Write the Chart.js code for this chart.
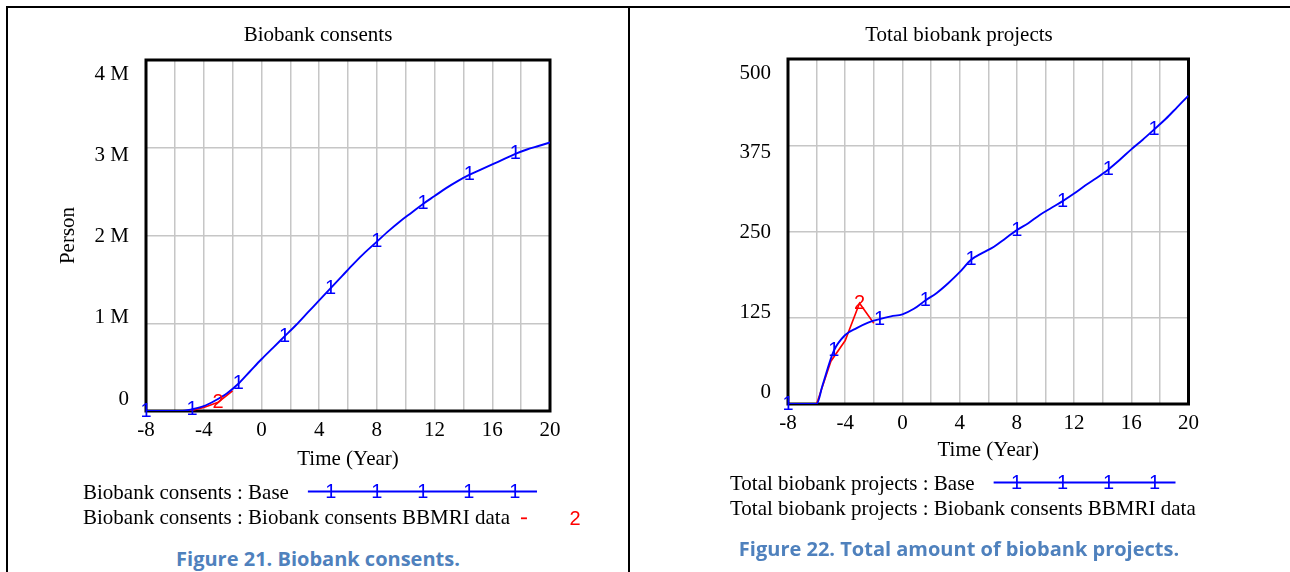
<!DOCTYPE html>
<html>
<head>
<meta charset="utf-8">
<script src="https://cdn.jsdelivr.net/npm/chart.js@4/dist/chart.umd.min.js"></script>
<style>
  html, body { margin: 0; padding: 0; background: #fff; width: 1290px; height: 572px; overflow: hidden; }
  .rule { position: absolute; background: #000; }
  canvas { position: absolute; }
  .caption { position: absolute; font-family: "Open Sans", sans-serif; font-weight: 700; font-size: 20px;
             line-height: 20px; color: #4F81BD; white-space: nowrap; text-align: center; }
</style>
</head>
<body>
<div class="rule" style="left:6px;top:6px;width:1284px;height:2px"></div>
<div class="rule" style="left:6px;top:6px;width:2px;height:566px"></div>
<div class="rule" style="left:628px;top:6px;width:2px;height:566px"></div>

<canvas id="consents" width="620" height="530" style="left:8px;top:8px"></canvas>
<canvas id="projects" width="658" height="530" style="left:630px;top:8px"></canvas>

<div class="caption" style="left:8px;width:620px;top:549px">Figure 21. Biobank consents.</div>
<div class="caption" style="left:630px;width:658px;top:539px">Figure 22. Total amount of biobank projects.</div>

<script>
// ---- Biobank consents (persons) ----
const consentYears = [-8, -7.2, -6.4, -5.6, -4.8, -4, -3.2, -2.4, -1.6, -0.8, 0, 0.8, 1.6, 2.4, 3.2, 4,
  4.8, 5.6, 6.4, 7.2, 8, 8.8, 9.6, 10.4, 11.2, 12, 12.8, 13.6, 14.4, 15.2, 16, 16.8, 17.6, 18.4, 19.2, 20];
const consentsBase = [0, 0, 0, 0, 20000, 55000, 120000, 200000, 310000, 450000, 590000, 720000, 850000,
  980000, 1120000, 1260000, 1400000, 1540000, 1680000, 1810000, 1930000, 2050000, 2160000, 2260000,
  2360000, 2450000, 2540000, 2620000, 2690000, 2750000, 2810000, 2870000, 2930000, 2980000, 3020000, 3060000];
const consentDataYears = [-5, -4, -3, -2];
const consentsBBMRI = [0, 40000, 100000, 230000];
const consentTickLabels = ['0', '1 M', '2 M', '3 M', '4 M'];

// ---- Total biobank projects ----
const projectYears = [-8, -7.2, -6.4, -6, -5.6, -4.8, -4, -3.2, -2.4, -1.6, -0.8, 0, 0.8, 1.6, 2.4, 3.2, 4,
  4.8, 5.6, 6.4, 7.2, 8, 8.8, 9.6, 10.4, 11.2, 12, 12.8, 13.6, 14.4, 15.2, 16, 16.8, 17.6, 18.4, 19.2, 20];
const projectsBase = [0, 0, 0, 0, 26, 77, 100, 110, 118, 123, 127, 130, 138, 150, 161, 175, 191,
  209, 219, 228, 240, 252, 262, 274, 284, 294, 305, 317, 328, 340, 354, 369, 383, 398, 413, 430, 447];
const projectDataYears = [-6, -5, -4, -3, -2];
const projectsBBMRI = [0, 62, 92, 146, 117];
const projectTickLabels = ['0', '125', '250', '375', '500'];

const timeTickLabels = ['-8', '-4', '0', '4', '8', '12', '16', '20'];

const SERIF = 'Liberation Serif';
const GLYPH_FONT = '20px "Liberation Sans"';
const BLUE = '#0000ff';
const RED = '#ff0000';
const GRID = '#c6c6c6';

Chart.defaults.color = '#000';
Chart.defaults.font.family = SERIF;

const pairs = (xs, ys) => xs.map((x, i) => ({ x, y: ys[i] }));

// heading centred over the whole panel
const heading = {
  id: 'heading',
  afterDraw(chart, args, o) {
    const ctx = chart.ctx;
    ctx.save();
    ctx.font = '21px "' + SERIF + '"';
    ctx.fillStyle = '#000';
    ctx.textAlign = 'center';
    ctx.textBaseline = 'middle';
    ctx.fillText(o.text, chart.width / 2, o.y);
    ctx.restore();
  }
};

// thick black frame round the plot area
const frame = {
  id: 'frame',
  beforeDatasetsDraw(chart) {
    const { ctx, chartArea: a } = chart;
    ctx.save();
    ctx.strokeStyle = '#000';
    ctx.lineWidth = 3;
    ctx.strokeRect(a.left, a.top, a.right - a.left, a.bottom - a.top);
    ctx.restore();
  }
};

// value labels of the y axis, set slightly inside the frame
const yLabels = {
  id: 'yLabels',
  afterDraw(chart, args, opts) {
    const s = chart.scales.y, a = chart.chartArea, ctx = chart.ctx;
    const h = a.bottom - a.top;
    ctx.save();
    ctx.font = '21px "' + SERIF + '"';
    ctx.fillStyle = '#000';
    ctx.textAlign = 'right';
    ctx.textBaseline = 'middle';
    s.ticks.forEach((t, i) => {
      const p = s.getPixelForValue(t.value);
      const y = a.top + 14 + (p - a.top) * (h - 26) / h;
      ctx.fillText(opts.labels[i], a.left - 17, y);
    });
    ctx.restore();
  }
};

// number glyphs sitting on the curves
const glyphs = {
  id: 'glyphs',
  afterDatasetsDraw(chart) {
    const ctx = chart.ctx;
    chart.data.datasets.forEach((ds, di) => {
      if (!ds.glyph) return;
      const meta = chart.getDatasetMeta(di);
      ctx.save();
      ctx.font = GLYPH_FONT;
      ctx.fillStyle = ds.borderColor;
      ctx.textAlign = 'center';
      ctx.textBaseline = 'middle';
      meta.data.forEach((pt, i) => {
        const r = (ds.data[i].x - ds.glyphFrom) / ds.glyphStep;
        if (r > -1e-6 && Math.abs(r - Math.round(r)) < 1e-6) ctx.fillText(ds.glyph, pt.x, pt.y);
      });
      ctx.restore();
    });
  }
};

// key below the axis: label text followed by a line sample
const keyRows = {
  id: 'keyRows',
  afterDraw(chart, args, o) {
    const ctx = chart.ctx, a = chart.chartArea;
    ctx.save();
    chart.data.datasets.forEach((ds, i) => {
      const y = a.bottom + o.rowY[i];
      ctx.font = '21px "' + SERIF + '"';
      ctx.fillStyle = '#000';
      ctx.textAlign = 'left';
      ctx.textBaseline = 'middle';
      ctx.fillText(ds.label, o.x, y);
      const end = o.x + ctx.measureText(ds.label).width;
      ctx.strokeStyle = ds.borderColor;
      ctx.fillStyle = ds.borderColor;
      ctx.lineWidth = 1.8;
      ctx.textAlign = 'center';
      ctx.font = GLYPH_FONT;
      if (o.sample[i] === 'long') {
        const x0 = end + 19, x1 = a.right - 13;
        ctx.beginPath(); ctx.moveTo(x0, y - 1.5); ctx.lineTo(x1, y - 1.5); ctx.stroke();
        for (let m = x0 + 23; m < x1; m += 46) ctx.fillText(ds.glyph, m, y - 1);
      } else if (o.sample[i] === 'short') {
        ctx.beginPath(); ctx.moveTo(end + 11, y); ctx.lineTo(end + 17, y); ctx.stroke();
        ctx.fillText(ds.glyph, end + 65, y + 1);
      }
    });
    ctx.restore();
  }
};

function makeChart(id, cfg) {
  const font = { family: SERIF, size: 21, weight: 'normal' };
  return new Chart(document.getElementById(id), {
    type: 'line',
    data: {
      datasets: [
        { label: cfg.baseLabel, data: pairs(cfg.years, cfg.base), borderColor: BLUE, borderWidth: 1.9,
          pointRadius: 0, cubicInterpolationMode: 'monotone', glyph: '1', glyphFrom: -8, glyphStep: 3.2 },
        { label: cfg.dataLabel, data: pairs(cfg.dataYears, cfg.dataVals), borderColor: RED, borderWidth: 1.6,
          pointRadius: 0, tension: 0, glyph: '2', glyphFrom: -3, glyphStep: 3.2 }
      ]
    },
    options: {
      responsive: false,
      animation: false,
      layout: { padding: cfg.padding },
      plugins: {
        legend: { display: false },
        tooltip: { enabled: false },
        title: { display: false },
        heading: { text: cfg.title, y: 27 },
        yLabels: { labels: cfg.tickLabels },
        keyRows: { x: cfg.keyX, rowY: cfg.keyRowY, sample: cfg.keySample }
      },
      scales: {
        x: {
          type: 'linear', min: -8, max: 20,
          afterFit: s => { s.height = cfg.xHeight; },
          border: { display: false },
          grid: { color: GRID, lineWidth: 1.5, drawTicks: false },
          ticks: { stepSize: 2, autoSkip: false, maxRotation: 0, padding: 7.2, font, color: '#000',
                   callback: v => timeTickLabels.includes(String(v)) ? String(v) : '' },
          title: { display: true, text: 'Time (Year)', font, color: '#000', padding: { top: 0, bottom: 0 } }
        },
        y: {
          min: 0, max: cfg.yMax,
          afterFit: s => { s.width = cfg.yWidth; },
          border: { display: false },
          grid: { color: GRID, lineWidth: 1.5, drawTicks: false },
          ticks: { stepSize: cfg.yMax / 4, display: false },
          title: { display: !!cfg.yTitle, text: cfg.yTitle || '', font, color: '#000', padding: { top: 7.4, bottom: 0 } }
        }
      }
    },
    plugins: [frame, glyphs, yLabels, keyRows, heading]
  });
}

makeChart('consents', {
  title: 'Biobank consents',
  yTitle: 'Person',
  baseLabel: 'Biobank consents : Base',
  dataLabel: 'Biobank consents : Biobank consents BBMRI data',
  years: consentYears, base: consentsBase,
  dataYears: consentDataYears, dataVals: consentsBBMRI,
  tickLabels: consentTickLabels,
  yMax: 4000000,
  padding: { left: 40, right: 78, top: 52, bottom: 66.4 },
  yWidth: 98, xHeight: 60.6,
  keyX: 75, keyRowY: [82, 107.3], keySample: ['long', 'short']
});

makeChart('projects', {
  title: 'Total biobank projects',
  yTitle: '',
  baseLabel: 'Total biobank projects : Base',
  dataLabel: 'Total biobank projects : Biobank consents BBMRI data',
  years: projectYears, base: projectsBase,
  dataYears: projectDataYears, dataVals: projectsBBMRI,
  tickLabels: projectTickLabels,
  yMax: 500,
  padding: { left: 40, right: 99.5, top: 51, bottom: 75.4 },
  yWidth: 118, xHeight: 58.6,
  keyX: 100, keyRowY: [80, 105], keySample: ['long', 'none']
});
</script>
</body>
</html>
